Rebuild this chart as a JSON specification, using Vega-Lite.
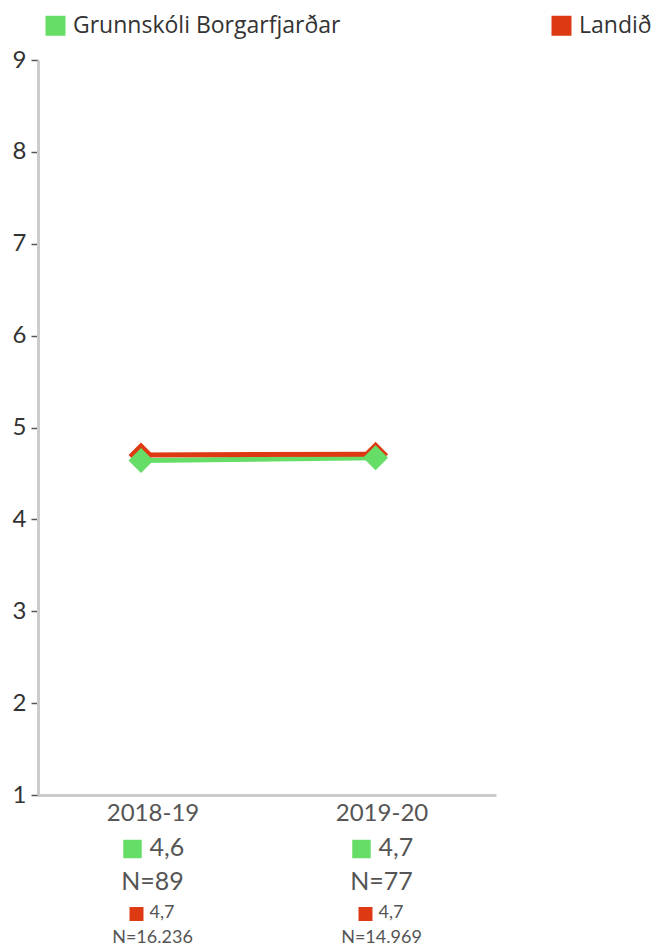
{
  "$schema": "https://vega.github.io/schema/vega-lite/v6.json",
  "width": 458,
  "height": 735,
  "autosize": {"type": "none"},
  "padding": {"left": 38, "top": 60, "right": 159, "bottom": 153},
  "background": "white",
  "config": {"view": {"stroke": null}, "font": "Lato"},
  "data": {
    "values": [
      {"period": "2018-19", "series": "Grunnskóli Borgarfjarðar", "value": 4.64, "label": "4,6", "n": "N=89"},
      {"period": "2019-20", "series": "Grunnskóli Borgarfjarðar", "value": 4.67, "label": "4,7", "n": "N=77"},
      {"period": "2018-19", "series": "Landið", "value": 4.70, "label": "4,7", "n": "N=16.236"},
      {"period": "2019-20", "series": "Landið", "value": 4.71, "label": "4,7", "n": "N=14.969"}
    ]
  },
  "layer": [
    {
      "encoding": {
        "x": {"field": "period", "type": "ordinal", "scale": {"type": "point", "padding": 0.4765, "align": 0.461}, "axis": null},
        "y": {
          "field": "value", "type": "quantitative",
          "scale": {"domain": [1, 9], "nice": false, "zero": false},
          "axis": {"values": [1, 2, 3, 4, 5, 6, 7, 8, 9], "title": null, "grid": false, "labelFontSize": 24, "labelColor": "#333", "labelFont": "Lato", "labelPadding": 5, "tickSize": 7, "tickColor": "#555", "tickWidth": 1.5, "domainColor": "#cccccc", "domainWidth": 3}
        },
        "color": {
          "field": "series", "type": "nominal",
          "scale": {"domain": ["Grunnskóli Borgarfjarðar", "Landið"], "range": ["#66dd66", "#dd3a14"]},
          "legend": {"title": null, "orient": "none", "legendX": 6, "legendY": -46, "direction": "horizontal", "columns": 2, "columnPadding": 209, "symbolType": "square", "symbolSize": 400, "symbolStrokeWidth": 0, "symbolOpacity": 1, "labelFontSize": 23, "labelFont": "Open Sans", "labelColor": "#333", "labelOffset": 6, "padding": 0, "labelLimit": 400}
        }
      },
      "layer": [
        {"mark": {"type": "line", "strokeWidth": 5}},
        {"mark": {"type": "point", "shape": "diamond", "filled": true, "size": 625, "opacity": 1}, "encoding": {"order": {"field": "series", "sort": "descending"}}}
      ]
    },
    {
      "encoding": {
        "x": {"field": "period", "type": "ordinal", "scale": {"type": "point", "padding": 0.5},
          "axis": {"title": null, "ticks": false, "tickSize": 0, "labelAngle": 0, "labelFontSize": 24, "labelFont": "Lato", "labelColor": "#555", "labelPadding": 6, "domainColor": "#cccccc", "domainWidth": 3}},
        "y": {"datum": 1, "type": "quantitative",
          "axis": {"values": [1, 2, 3, 4, 5, 6, 7, 8, 9], "title": null, "grid": false, "labelFontSize": 24, "labelColor": "#333", "labelFont": "Lato", "labelPadding": 5, "tickSize": 7, "tickColor": "#555", "tickWidth": 1.5, "domainColor": "#cccccc", "domainWidth": 3}}
      },
      "layer": [
        {"transform": [{"filter": "datum.series === 'Grunnskóli Borgarfjarðar'"}], "mark": {"type": "point", "shape": "square", "filled": true, "size": 342, "opacity": 1, "xOffset": -20, "yOffset": 54}, "encoding": {"color": {"field": "series", "type": "nominal"}}},
        {"transform": [{"filter": "datum.series === 'Grunnskóli Borgarfjarðar'"}], "mark": {"type": "text", "align": "left", "baseline": "middle", "dx": -3, "dy": 53, "fontSize": 25, "color": "#555"}, "encoding": {"text": {"field": "label"}}},
        {"transform": [{"filter": "datum.series === 'Grunnskóli Borgarfjarðar'"}], "mark": {"type": "text", "align": "center", "baseline": "middle", "dx": 0, "dy": 87, "fontSize": 25, "color": "#555"}, "encoding": {"text": {"field": "n"}}},
        {"transform": [{"filter": "datum.series === 'Landið'"}], "mark": {"type": "point", "shape": "square", "filled": true, "size": 196, "opacity": 1, "xOffset": -16, "yOffset": 119}, "encoding": {"color": {"field": "series", "type": "nominal"}}},
        {"transform": [{"filter": "datum.series === 'Landið'"}], "mark": {"type": "text", "align": "left", "baseline": "middle", "dx": -3, "dy": 118, "fontSize": 18, "color": "#555"}, "encoding": {"text": {"field": "label"}}},
        {"transform": [{"filter": "datum.series === 'Landið'"}], "mark": {"type": "text", "align": "center", "baseline": "middle", "dx": 0, "dy": 143, "fontSize": 18, "color": "#555"}, "encoding": {"text": {"field": "n"}}}
      ]
    }
  ],
  "resolve": {"scale": {"x": "independent"}}
}
